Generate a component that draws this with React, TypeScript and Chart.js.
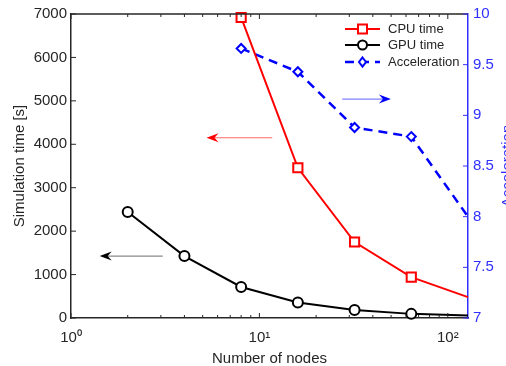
import { useEffect, useRef } from 'react';
import { Chart, registerables } from 'chart.js';

Chart.register(...registerables);
Chart.defaults.font.family = "'Liberation Sans', Arial, Helvetica, sans-serif";

// ---- data ----
const nodesCPU = [8, 16, 32, 64, 128];
const cpuTime = [6920, 3460, 1750, 940, 480];
const nodesGPU = [2, 4, 8, 16, 32, 64, 128];
const gpuTime = [2440, 1425, 715, 355, 185, 95, 60];
const nodesAcc = [8, 16, 32, 64, 128];
const acceleration = [9.66, 9.43, 8.88, 8.79, 8.0];
const seriesLabels = ['CPU time', 'GPU time', 'Acceleration'];

const xMajorTicks = [1, 10, 100];
const xTickLabels = ['10⁰', '10¹', '10²'];
const xMinorTicks = [2, 3, 4, 5, 6, 7, 8, 9, 20, 30, 40, 50, 60, 70, 80, 90];
const leftTicks = [0, 1000, 2000, 3000, 4000, 5000, 6000, 7000];
const rightTicks = [7, 7.5, 8, 8.5, 9, 9.5, 10];
const rightTickLabels = ['7', '7.5', '8', '8.5', '9', '9.5', '10'];

// annotation arrows (data units)
const arrowFromX = [11.7, 27.5, 3.07];
const arrowToX = [5.24, 49.9, 1.42];
const arrowY = [4150, 9.16, 1425];
const arrowAxis = ['yL', 'yR', 'yL'];
const arrowLineColors = ['#ff6a6a', '#8080ff', '#8a8a8a'];
const arrowHeadColors = ['#ff0000', '#0000ff', '#000000'];

const AXIS = '#262626';
const BLUE_AXIS = '#3030ff';

const pts = (xs: number[], ys: number[]) => xs.map((x, i) => ({ x, y: ys[i] }));
const lastHidden = (n: number, r: number) => Array.from({ length: n }, (_, i) => (i === n - 1 ? 0 : r));

const decorPlugin = {
  id: 'decor',
  afterDraw(chart: any) {
    const ctx = chart.ctx;
    const ca = chart.chartArea;
    const x = chart.scales.x;
    const yL = chart.scales.yL;
    const yR = chart.scales.yR;
    ctx.save();
    // top border
    ctx.strokeStyle = AXIS;
    ctx.lineWidth = 1.5;
    ctx.beginPath();
    ctx.moveTo(ca.left, ca.top);
    ctx.lineTo(ca.right, ca.top);
    ctx.stroke();
    // x ticks inward
    ctx.lineWidth = 1;
    const xt = (v: number, len: number) => {
      const px = x.getPixelForValue(v);
      ctx.beginPath();
      ctx.moveTo(px, ca.bottom);
      ctx.lineTo(px, ca.bottom - len);
      ctx.moveTo(px, ca.top);
      ctx.lineTo(px, ca.top + len);
      ctx.stroke();
    };
    xMajorTicks.forEach((v) => xt(v, 5));
    xMinorTicks.forEach((v) => xt(v, 3));
    leftTicks.forEach((v) => {
      const py = yL.getPixelForValue(v);
      ctx.beginPath();
      ctx.moveTo(ca.left, py);
      ctx.lineTo(ca.left + 5, py);
      ctx.stroke();
    });
    ctx.strokeStyle = BLUE_AXIS;
    rightTicks.forEach((v) => {
      const py = yR.getPixelForValue(v);
      ctx.beginPath();
      ctx.moveTo(ca.right, py);
      ctx.lineTo(ca.right - 5, py);
      ctx.stroke();
    });

    // arrows
    arrowFromX.forEach((fx, i) => {
      const ys = chart.scales[arrowAxis[i]];
      const py = ys.getPixelForValue(arrowY[i]);
      const x0 = x.getPixelForValue(fx);
      const x1 = x.getPixelForValue(arrowToX[i]);
      const dir = Math.sign(x1 - x0);
      ctx.strokeStyle = arrowLineColors[i];
      ctx.lineWidth = 1.2;
      ctx.beginPath();
      ctx.moveTo(x0, py);
      ctx.lineTo(x1 - dir * 6, py);
      ctx.stroke();
      ctx.fillStyle = arrowHeadColors[i];
      ctx.beginPath();
      ctx.moveTo(x1, py);
      ctx.lineTo(x1 - dir * 12, py - 4.5);
      ctx.lineTo(x1 - dir * 8, py);
      ctx.lineTo(x1 - dir * 12, py + 4.5);
      ctx.closePath();
      ctx.fill();
    });

    // legend
    const datasets = chart.data.datasets;
    const lx0 = ca.right - 123;
    const lx1 = ca.right - 88;
    const mx = (lx0 + lx1) / 2;
    const rows = [ca.top + 15, ca.top + 31, ca.top + 48];
    datasets.forEach((ds: any, i: number) => {
      const ry = rows[i];
      ctx.strokeStyle = ds.borderColor;
      ctx.lineWidth = ds.borderWidth;
      ctx.setLineDash(ds.borderDash || []);
      ctx.beginPath();
      ctx.moveTo(lx0, ry);
      ctx.lineTo(lx1, ry);
      ctx.stroke();
      ctx.setLineDash([]);
      ctx.fillStyle = '#ffffff';
      ctx.lineWidth = 2;
      const r = 4.5;
      ctx.beginPath();
      if (ds.pointStyle === 'rect') {
        ctx.rect(mx - r, ry - r, 2 * r, 2 * r);
      } else if (ds.pointStyle === 'circle') {
        ctx.arc(mx, ry, r, 0, Math.PI * 2);
      } else {
        ctx.moveTo(mx, ry - 4.5);
        ctx.lineTo(mx + 3.5, ry);
        ctx.lineTo(mx, ry + 4.5);
        ctx.lineTo(mx - 3.5, ry);
        ctx.closePath();
      }
      ctx.fill();
      ctx.stroke();
      ctx.fillStyle = AXIS;
      ctx.font = "13px 'Liberation Sans', Arial, sans-serif";
      ctx.textAlign = 'left';
      ctx.textBaseline = 'middle';
      ctx.fillText(seriesLabels[i], lx1 + 8, ry);
    });

    // right axis title (bottom-to-top)
    ctx.save();
    ctx.translate(512, (ca.top + ca.bottom) / 2);
    ctx.rotate(-Math.PI / 2);
    ctx.fillStyle = BLUE_AXIS;
    ctx.font = "15px 'Liberation Sans', Arial, sans-serif";
    ctx.textAlign = 'center';
    ctx.textBaseline = 'alphabetic';
    ctx.fillText('Acceleration', 0, 0);
    ctx.restore();
    ctx.restore();
  },
};

export default function App() {
  const ref = useRef<HTMLCanvasElement | null>(null);
  useEffect(() => {
    if (!ref.current) return;
    const chart = new Chart(ref.current, {
      type: 'line',
      data: {
        datasets: [
          {
            label: seriesLabels[0],
            data: pts(nodesCPU, cpuTime),
            yAxisID: 'yL',
            borderColor: '#ff0000',
            backgroundColor: '#ffffff',
            borderWidth: 2,
            pointStyle: 'rect',
            pointRadius: lastHidden(nodesCPU.length, 6.5),
            pointBorderWidth: 2,
            pointBackgroundColor: '#ffffff',
            pointBorderColor: '#ff0000',
            clip: false,
          },
          {
            label: seriesLabels[1],
            data: pts(nodesGPU, gpuTime),
            yAxisID: 'yL',
            borderColor: '#000000',
            backgroundColor: '#ffffff',
            borderWidth: 2,
            pointStyle: 'circle',
            pointRadius: lastHidden(nodesGPU.length, 5),
            pointBorderWidth: 2,
            pointBackgroundColor: '#ffffff',
            pointBorderColor: '#000000',
            clip: false,
          },
          {
            label: seriesLabels[2],
            data: pts(nodesAcc, acceleration),
            yAxisID: 'yR',
            borderColor: '#0000ff',
            backgroundColor: '#ffffff',
            borderWidth: 2.5,
            borderDash: [9, 6],
            pointStyle: 'rectRot',
            pointRadius: lastHidden(nodesAcc.length, 4.5),
            pointBorderWidth: 2,
            pointBackgroundColor: '#ffffff',
            pointBorderColor: '#0000ff',
            clip: false,
          },
        ],
      },
      options: {
        animation: false,
        responsive: false,
        layout: { padding: { top: 13, left: 0, right: 0, bottom: 0 } },
        plugins: { legend: { display: false }, tooltip: { enabled: false } },
        scales: {
          x: {
            type: 'logarithmic',
            position: 'bottom',
            min: 1,
            max: 128,
            afterBuildTicks: (s: any) => {
              s.ticks = xMajorTicks.map((v) => ({ value: v }));
            },
            afterFit: (s: any) => {
              s.height = 48;
            },
            grid: { display: false, drawTicks: false },
            border: { display: true, color: AXIS, width: 1.5 },
            ticks: {
              autoSkip: false,
              maxRotation: 0,
              padding: 11,
              color: AXIS,
              font: { size: 15 },
              callback: (_v: any, i: number) => xTickLabels[i],
            },
            title: {
              display: true,
              text: 'Number of nodes',
              color: AXIS,
              font: { size: 15 },
              padding: { top: 0, bottom: -2 },
            },
          },
          yL: {
            type: 'linear',
            position: 'left',
            min: 0,
            max: 7000,
            afterBuildTicks: (s: any) => {
              s.ticks = leftTicks.map((v) => ({ value: v }));
            },
            afterFit: (s: any) => {
              s.width = 71;
            },
            grid: { display: false, drawTicks: false },
            border: { display: true, color: AXIS, width: 1.5 },
            ticks: { padding: 4, color: AXIS, font: { size: 15 }, callback: (v: any) => String(v) },
            title: {
              display: true,
              text: 'Simulation time [s]',
              color: AXIS,
              font: { size: 15 },
              padding: { top: 11, bottom: 0 },
            },
          },
          yR: {
            type: 'linear',
            position: 'right',
            min: 7,
            max: 10,
            afterBuildTicks: (s: any) => {
              s.ticks = rightTicks.map((v) => ({ value: v }));
            },
            afterFit: (s: any) => {
              s.width = 38;
            },
            grid: { display: false, drawTicks: false },
            border: { display: true, color: BLUE_AXIS, width: 1.5 },
            ticks: {
              padding: 5,
              color: BLUE_AXIS,
              font: { size: 15 },
              callback: (_v: any, i: number) => rightTickLabels[i],
            },
          },
        },
      },
      plugins: [decorPlugin],
    } as any);
    return () => chart.destroy();
  }, []);
  return (
    <div style={{ position: 'fixed', left: 0, top: 0, width: 506, height: 366, background: '#fff' }}>
      <canvas ref={ref} width={506} height={366} style={{ display: 'block' }} />
    </div>
  );
}
